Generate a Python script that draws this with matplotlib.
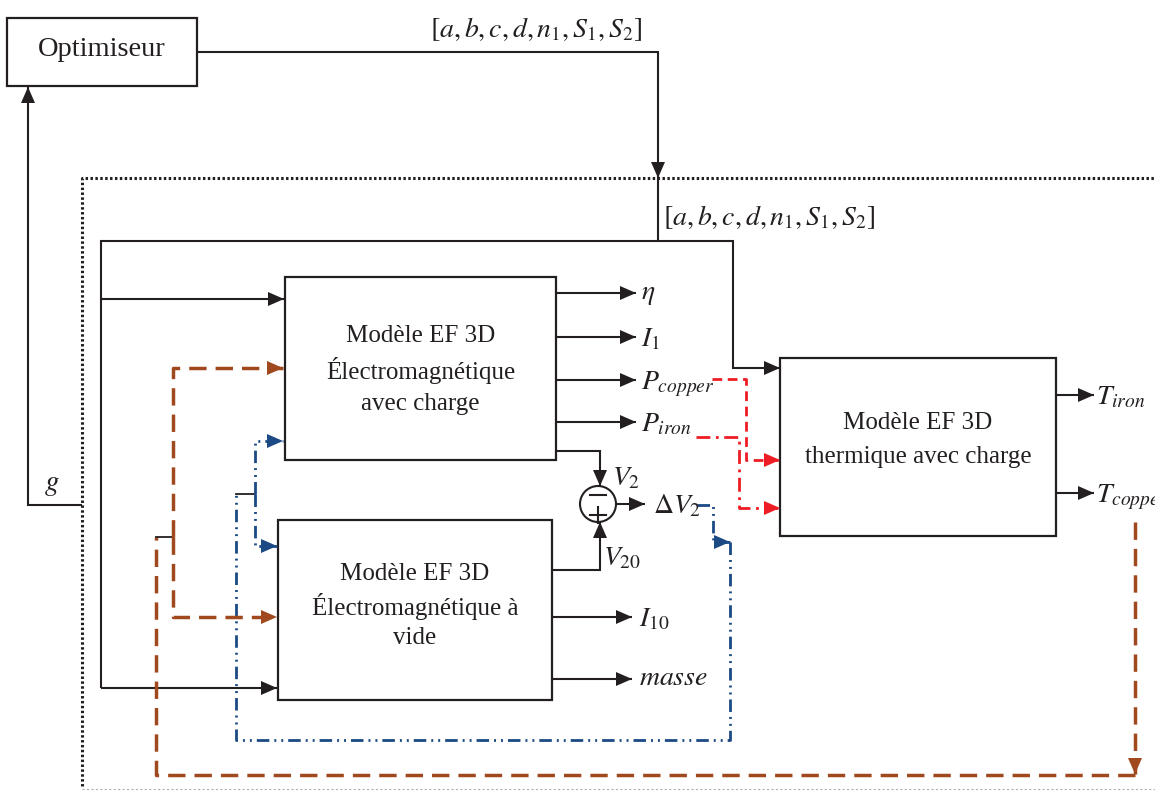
import numpy as np
import matplotlib.pyplot as plt
from matplotlib.patches import Rectangle, Circle, Polygon

plt.rcParams['font.family'] = ['Liberation Serif', 'DejaVu Serif']
plt.rcParams['mathtext.fontset'] = 'stix'

# Textes des blocs
opt_lines = ['Optimiseur']
charge_lines = ['Modèle EF 3D', 'Électromagnétique', 'avec charge']
vide_lines = ['Modèle EF 3D', 'Électromagnétique à', 'vide']
therm_lines = ['Modèle EF 3D', 'thermique avec charge']

# Sorties des blocs
charge_outputs = [r'$\eta$', r'$I_1$', r'$P_{copper}$', r'$P_{iron}$']
vide_outputs = [r'$I_{10}$', r'$masse$']
therm_outputs = [r'$T_{iron}$', r'$T_{copper}$']
param_label = r'$[a,b,c,d,n_1,S_1,S_2]$'

BLACK = '#231f20'
BROWN = '#a0491f'
BLUE = '#1b4a84'
RED = '#ee1c24'

W, H = 1155, 791
fig = plt.figure(figsize=(W / 100, H / 100), dpi=100)
ax = fig.add_axes([0, 0, 1, 1])
ax.set_xlim(0, W)
ax.set_ylim(H, 0)
ax.axis('off')


def path(pts, color=BLACK, lw=1.5, ls='-', head=True):
    xs, ys = zip(*pts)
    ax.plot(xs, ys, color=color, lw=lw, ls=ls,
            solid_capstyle='butt', dash_capstyle='butt', solid_joinstyle='miter')
    if head:
        (x0, y0), (x1, y1) = pts[-2], pts[-1]
        d = np.array([x1 - x0, y1 - y0], float)
        d /= np.hypot(*d)
        n = np.array([-d[1], d[0]])
        tip = np.array([x1, y1])
        base = tip - 16 * d
        ax.add_patch(Polygon([tip, base + 7 * n, base - 7 * n], closed=True,
                             color=color, lw=0, zorder=3))


def box(x0, y0, x1, y1, lines, ys, size=18):
    ax.add_patch(Rectangle((x0, y0), x1 - x0, y1 - y0, fill=False,
                           ec=BLACK, lw=1.6))
    for t, y in zip(lines, ys):
        ax.text((x0 + x1) / 2, y, t, ha='center', va='center',
                fontsize=size, color=BLACK)


def label(x, y, t, size=20):
    ax.text(x, y, t, ha='left', va='baseline', fontsize=size, color=BLACK)


# Blocs
box(7, 18, 197, 86, opt_lines, [50], size=20.5)
box(285, 277, 556, 460, charge_lines, [336, 370, 404])
box(278, 520, 552, 700, vide_lines, [574, 606, 638])
box(780, 358, 1056, 536, therm_lines, [423, 457])

# Cadre pointillé
ax.plot([82, 82, W], [786, 178, 178], color=BLACK, lw=2.2, ls=(0, (0.8, 0.8)))
ax.plot([82, W], [789, 789], color='#b0b0b0', lw=0.8, ls=(0, (2, 2)))

# Optimiseur -> modèle
path([(197, 52), (658, 52), (658, 178)])
label(430, 37, param_label)
ax.plot([658, 658], [178, 241], color=BLACK, lw=1.5)
label(663, 225, param_label)

# Retour g
path([(82, 505), (28, 505), (28, 87)])
label(44, 490, r'$g$', size=21)

# Distribution des paramètres
path([(101, 688), (101, 241), (733, 241), (733, 368), (780, 368)])
path([(101, 299), (284, 299)])
path([(101, 688), (277, 688)])

# Sorties bloc avec charge
for y, t in zip([293, 337, 380, 422], charge_outputs):
    path([(556, y), (636, y)])
    label(641, y + 9 if t != r'$\eta$' else y + 6, t)

# Sorties bloc à vide
for y, t in zip([617, 679], vide_outputs):
    path([(552, y), (632, y)])
    label(639, y + 9 if t != r'$masse$' else y + 6, t)

# Sorties bloc thermique
for y, t in zip([395, 493], therm_outputs):
    path([(1056, y), (1094, y)])
    label(1096, y + 9, t)

# Comparateur
ax.add_patch(Circle((598, 504), 18, fill=False, ec=BLACK, lw=1.5))
ax.plot([590, 606], [495, 495], color=BLACK, lw=1.5)
ax.plot([590, 606], [515, 515], color=BLACK, lw=1.5)
ax.plot([598, 598], [507, 523], color=BLACK, lw=1.5)
path([(556, 451), (600, 451), (600, 486)])
path([(552, 570), (600, 570), (600, 522)])
path([(616, 504), (645, 504)])
label(612, 485, r'$V_2$')
label(653, 513, r'$\Delta V_2$')
label(603, 565, r'$V_{20}$')

# Pertes (rouge)
path([(712, 379), (746, 379), (746, 460), (780, 460)], color=RED, lw=2.0,
     ls=(0, (3.5, 2)))
path([(696, 437), (739, 437), (739, 508), (780, 508)], color=RED, lw=2.0,
     ls=(0, (5, 2, 1, 2)))

# Boucle Delta V2 (bleu)
blue_ls = (0, (4.5, 1.8, 0.7, 1.8, 0.7, 1.8))
path([(697, 505), (713, 505), (713, 542), (730, 542)], color=BLUE, lw=2.0, ls=blue_ls)
path([(730, 542), (730, 740), (236, 740), (236, 494)], color=BLUE, lw=2.0,
     ls=blue_ls, head=False)
ax.plot([236, 255], [494, 494], color=BLACK, lw=1.3)
path([(255, 494), (255, 441), (283, 441)], color=BLUE, lw=2.0, ls=blue_ls)
path([(255, 494), (255, 546), (277, 546)], color=BLUE, lw=2.0, ls=blue_ls)

# Boucle T_copper (marron)
brown_ls = (0, (5, 2.6))
path([(1135, 522), (1135, 774)], color=BROWN, lw=2.5, ls=brown_ls)
path([(1135, 775), (156, 775), (156, 537)], color=BROWN, lw=2.5, ls=brown_ls,
     head=False)
ax.plot([156, 173], [537, 537], color=BLACK, lw=1.3)
path([(173, 537), (173, 368), (283, 368)], color=BROWN, lw=2.5, ls=brown_ls)
path([(173, 537), (173, 617), (277, 617)], color=BROWN, lw=2.5, ls=brown_ls)

fig.savefig('out.png', dpi=100)
